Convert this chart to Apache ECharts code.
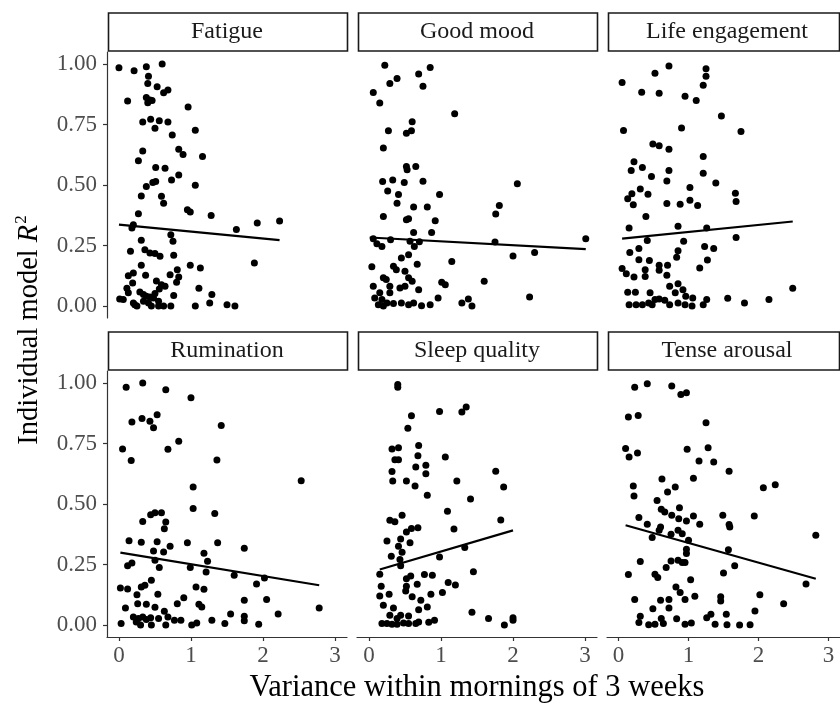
<!DOCTYPE html>
<html>
<head>
<meta charset="utf-8">
<script src="https://cdn.jsdelivr.net/npm/echarts@6.0.0/dist/echarts.min.js"></script>
<style>
html,body{margin:0;padding:0;background:#fff;}
#chart{width:840px;height:704px;}
</style>
</head>
<body>
<div id="chart"></div>
<script>
// ---- Data ----
const panelNames = ['Fatigue', 'Good mood', 'Life engagement', 'Rumination', 'Sleep quality', 'Tense arousal'];
const xTicks = [0, 1, 2, 3];
const yTicks = [0, 0.25, 0.5, 0.75, 1.0];
const xTitle = 'Variance within mornings of 3 weeks';

const fatiguePts = [[0,0.985],[0.21,0.972],[0.38,0.989],[0.60,1.0],[0.41,0.950],[0.40,0.920],[0.53,0.906],[0.62,0.882],[0.68,0.893],[0.12,0.847],[0.38,0.862],[0.43,0.851],[0.40,0.840],[0.46,0.849],[0.96,0.823],[0.33,0.761],[0.44,0.772],[0.50,0.735],[0.56,0.766],[0.68,0.761],[0.74,0.707],[1.06,0.726],[0.33,0.641],[0.83,0.648],[0.89,0.626],[1.16,0.618],[0.27,0.600],[0.51,0.572],[0.64,0.569],[0.47,0.510],[0.51,0.514],[0.38,0.494],[0.73,0.521],[0.83,0.541],[1.06,0.499],[0.31,0.454],[0.59,0.453],[0.62,0.425],[0.27,0.381],[0.95,0.398],[0.99,0.388],[1.28,0.374],[0.20,0.336],[0.18,0.322],[1.92,0.343],[2.23,0.351],[1.63,0.316],[0.72,0.294],[0.75,0.267],[0.31,0.272],[0.16,0.226],[0.36,0.232],[0.43,0.219],[0.50,0.217],[0.57,0.205],[0.76,0.210],[0.31,0.168],[0.99,0.168],[1.13,0.157],[1.88,0.177],[0.13,0.125],[0.20,0.136],[0.37,0.127],[0.52,0.103],[0.59,0.088],[0.71,0.129],[0.81,0.150],[0.83,0.120],[0.80,0.098],[0.19,0.095],[0.11,0.073],[0.13,0.054],[0.29,0.058],[0.34,0.047],[0.43,0.037],[0.50,0.051],[0.56,0.070],[0.64,0.081],[0.76,0.043],[1.11,0.073],[1.29,0.047],[0.01,0.029],[0.06,0.026],[0.20,0.012],[0.25,0.0],[0.34,0.019],[0.41,0.012],[0.45,0.0],[0.55,0.0],[0.62,0.0],[0.72,0.0],[1.06,0.0],[1.26,0.012],[1.50,0.005],[1.61,0.0],[0.38,0.040],[0.48,0.033],[0.22,0.005],[0.55,0.019]];
const goodMoodPts = [[0.22,0.995],[0.39,0.940],[0.29,0.920],[0.69,0.959],[0.85,0.986],[0.75,0.908],[0.06,0.883],[0.15,0.839],[1.19,0.795],[0.60,0.762],[0.27,0.724],[0.52,0.714],[0.59,0.724],[0.20,0.653],[0.52,0.576],[0.53,0.563],[0.65,0.576],[0.19,0.514],[0.33,0.521],[0.26,0.475],[0.49,0.510],[0.75,0.516],[0.41,0.461],[0.39,0.425],[0.98,0.461],[2.06,0.505],[0.62,0.409],[0.81,0.409],[0.20,0.370],[0.52,0.356],[0.55,0.360],[0.92,0.352],[1.81,0.415],[1.76,0.380],[0.87,0.304],[0.62,0.304],[0.06,0.278],[0.11,0.257],[0.18,0.246],[0.30,0.274],[0.57,0.267],[0.63,0.246],[0.70,0.265],[1.75,0.264],[3.01,0.278],[2.00,0.206],[2.30,0.221],[0.55,0.212],[0.45,0.198],[1.15,0.184],[0.04,0.162],[0.34,0.164],[0.38,0.150],[0.67,0.172],[0.50,0.143],[0.20,0.116],[0.24,0.109],[0.55,0.116],[0.60,0.102],[1.01,0.098],[1.06,0.088],[1.60,0.102],[0.06,0.081],[0.29,0.081],[0.43,0.074],[0.50,0.081],[0.69,0.067],[0.15,0.054],[0.29,0.054],[0.08,0.033],[0.18,0.026],[0.25,0.012],[0.34,0.010],[0.45,0.012],[0.55,0.005],[0.62,0.012],[0.73,0.001],[0.85,0.005],[0.96,0.033],[1.29,0.012],[1.38,0.029],[1.43,0.0],[2.23,0.037],[0.13,0.005],[0.20,0.0]];
const lifeEngPts = [[0.05,0.924],[0.52,0.962],[0.72,0.992],[0.33,0.884],[0.58,0.879],[1.25,0.981],[1.25,0.950],[1.21,0.912],[0.95,0.867],[1.11,0.849],[1.47,0.785],[0.07,0.725],[0.90,0.736],[1.75,0.721],[0.49,0.670],[0.58,0.662],[0.72,0.648],[1.21,0.618],[0.22,0.596],[0.18,0.560],[0.34,0.572],[0.47,0.535],[0.72,0.560],[0.69,0.517],[1.21,0.549],[1.39,0.508],[0.31,0.483],[0.19,0.464],[0.42,0.462],[0.13,0.443],[0.21,0.418],[1.02,0.490],[1.02,0.437],[0.69,0.424],[0.88,0.420],[1.13,0.415],[1.67,0.466],[1.68,0.432],[0.39,0.370],[0.15,0.322],[0.85,0.329],[1.26,0.322],[1.68,0.283],[0.41,0.270],[0.93,0.267],[0.29,0.237],[0.16,0.221],[0.85,0.228],[1.23,0.246],[1.36,0.237],[0.29,0.191],[0.44,0.188],[0.83,0.201],[1.27,0.190],[0.58,0.168],[0.70,0.168],[0.05,0.155],[0.38,0.150],[0.58,0.147],[1.16,0.157],[0.11,0.133],[0.22,0.120],[0.38,0.122],[0.69,0.127],[0.73,0.081],[0.85,0.092],[0.92,0.067],[0.13,0.056],[0.24,0.056],[0.45,0.054],[0.58,0.029],[0.66,0.023],[0.81,0.054],[0.96,0.040],[1.06,0.033],[0.15,0.005],[0.25,0.005],[0.34,0.005],[0.43,0.012],[0.48,0.005],[0.73,0.005],[0.85,0.012],[0.95,0.005],[1.05,0.0],[1.21,0.005],[1.26,0.026],[1.56,0.032],[1.80,0.012],[2.15,0.026],[2.49,0.073],[0.52,0.026]];
const ruminationPts = [[0.10,0.983],[0.33,1.0],[0.65,0.972],[1.00,0.939],[0.18,0.839],[0.32,0.854],[0.43,0.842],[0.48,0.815],[0.53,0.869],[1.42,0.825],[0.05,0.727],[0.17,0.680],[0.68,0.726],[0.83,0.759],[1.36,0.682],[2.53,0.596],[1.03,0.570],[1.03,0.481],[0.33,0.428],[0.44,0.456],[0.50,0.464],[0.59,0.464],[0.65,0.426],[0.63,0.398],[1.33,0.461],[0.14,0.348],[0.31,0.342],[0.53,0.344],[0.71,0.325],[0.95,0.340],[1.37,0.340],[1.74,0.317],[0.48,0.306],[0.62,0.302],[1.18,0.296],[1.23,0.263],[0.12,0.245],[0.18,0.256],[0.50,0.267],[0.56,0.237],[0.99,0.237],[1.21,0.219],[1.60,0.205],[2.02,0.194],[0.45,0.185],[0.02,0.153],[0.12,0.149],[0.31,0.157],[0.36,0.164],[1.07,0.157],[1.18,0.147],[1.91,0.169],[0.25,0.125],[0.54,0.127],[0.90,0.112],[0.81,0.088],[1.11,0.085],[1.15,0.074],[0.26,0.088],[0.38,0.085],[0.09,0.070],[0.50,0.073],[0.63,0.056],[1.74,0.102],[2.05,0.105],[2.78,0.070],[2.21,0.045],[1.55,0.045],[0.20,0.033],[0.27,0.026],[0.33,0.033],[0.38,0.022],[0.44,0.030],[0.55,0.026],[0.68,0.033],[0.77,0.019],[0.86,0.019],[1.29,0.019],[1.74,0.036],[1.74,0.017],[0.03,0.006],[0.30,0.0],[0.45,0.0],[0.65,0.0],[1.01,0.0],[1.08,0.008],[1.47,0.006],[1.94,0.003],[0.24,0.012]];
const sleepPts = [[0.40,0.994],[0.40,0.983],[0.98,0.883],[1.29,0.880],[1.35,0.901],[0.59,0.865],[0.54,0.813],[0.32,0.727],[0.41,0.733],[0.69,0.742],[0.36,0.683],[0.41,0.683],[0.68,0.700],[1.06,0.694],[0.32,0.634],[0.65,0.653],[0.79,0.660],[0.79,0.625],[1.76,0.635],[0.33,0.595],[0.52,0.595],[0.64,0.574],[1.22,0.595],[1.87,0.570],[0.81,0.536],[1.41,0.521],[1.09,0.470],[0.29,0.433],[0.36,0.427],[0.46,0.453],[1.83,0.434],[0.52,0.384],[0.59,0.399],[0.68,0.402],[1.18,0.397],[0.44,0.355],[0.25,0.347],[0.57,0.340],[0.41,0.325],[1.33,0.320],[0.46,0.300],[0.31,0.284],[0.43,0.270],[0.98,0.281],[0.44,0.245],[0.15,0.209],[0.52,0.191],[0.58,0.202],[0.77,0.208],[0.88,0.205],[1.45,0.220],[0.17,0.160],[0.67,0.168],[0.52,0.160],[1.10,0.175],[1.20,0.165],[0.15,0.120],[0.28,0.127],[0.51,0.140],[0.60,0.116],[0.86,0.127],[1.02,0.134],[0.20,0.081],[0.72,0.102],[0.81,0.074],[0.34,0.070],[0.69,0.063],[1.43,0.052],[0.29,0.040],[0.44,0.040],[0.55,0.037],[0.91,0.019],[0.83,0.011],[1.66,0.026],[2.00,0.030],[2.00,0.019],[1.88,0.0],[0.18,0.006],[0.25,0.006],[0.32,0.003],[0.39,0.003],[0.48,0.008],[0.55,0.006],[0.65,0.006],[0.69,0.012],[0.39,0.026]];
const tensePts = [[0.23,0.983],[0.41,0.997],[0.76,0.988],[0.89,0.953],[0.97,0.960],[0.14,0.860],[0.28,0.866],[1.25,0.836],[0.10,0.729],[0.15,0.694],[0.27,0.711],[0.98,0.726],[1.28,0.733],[1.15,0.678],[1.36,0.674],[1.58,0.635],[0.62,0.603],[1.07,0.607],[0.21,0.574],[0.22,0.533],[0.70,0.550],[0.81,0.570],[2.07,0.567],[2.24,0.580],[0.55,0.514],[0.61,0.478],[0.87,0.485],[0.66,0.467],[0.29,0.444],[0.76,0.453],[0.86,0.439],[0.97,0.430],[1.07,0.450],[1.49,0.453],[1.94,0.450],[0.41,0.416],[0.60,0.405],[0.58,0.391],[1.16,0.416],[1.58,0.415],[1.59,0.405],[0.48,0.361],[0.75,0.375],[0.85,0.391],[0.91,0.377],[1.00,0.350],[2.82,0.371],[0.97,0.313],[0.97,0.295],[1.57,0.311],[0.75,0.264],[0.85,0.267],[0.91,0.258],[0.95,0.258],[0.31,0.262],[0.68,0.237],[1.66,0.245],[1.50,0.215],[0.14,0.208],[0.52,0.209],[0.56,0.196],[1.03,0.187],[2.68,0.169],[0.82,0.157],[0.88,0.134],[0.23,0.105],[0.60,0.102],[0.72,0.105],[0.95,0.105],[1.09,0.118],[1.46,0.116],[1.46,0.099],[2.02,0.125],[2.36,0.087],[0.49,0.067],[0.72,0.070],[1.95,0.058],[0.31,0.036],[0.29,0.010],[0.43,0.001],[0.52,0.003],[0.64,0.006],[0.61,0.026],[0.83,0.025],[0.95,0.003],[1.04,0.008],[1.26,0.030],[1.32,0.044],[1.38,0.003],[1.54,0.044],[1.55,0.001],[1.73,0.0],[1.88,0.001]];

// fitted regression line end points
const fatigueFit = [[0.00, 0.336], [2.23, 0.272]];
const goodMoodFit = [[0.01, 0.283], [3.01, 0.235]];
const lifeEngFit = [[0.05, 0.278], [2.49, 0.349]];
const ruminationFit = [[0.02, 0.299], [2.78, 0.164]];
const sleepFit = [[0.15, 0.229], [2.00, 0.391]];
const tenseFit = [[0.10, 0.412], [2.82, 0.191]];

const panelPts = [fatiguePts, goodMoodPts, lifeEngPts, ruminationPts, sleepPts, tensePts];
const panelFits = [fatigueFit, goodMoodFit, lifeEngFit, ruminationFit, sleepFit, tenseFit];

// ---- Layout ----
const FONT = '"Liberation Serif", "Times New Roman", serif';
const colLeft = [107, 357, 607];
const rowTop = [52, 371];
const panelW = 240, panelH = 266, stripH = 39;
const xMin = -0.166, xMax = 3.166, yMin = -0.05, yMax = 1.05;

const chart = echarts.init(document.getElementById('chart'), null, {renderer: 'canvas'});

const grids = [], xAxes = [], yAxes = [], series = [], graphics = [];
panelNames.forEach((name, i) => {
  const r = Math.floor(i / 3), c = i % 3;
  grids.push({left: colLeft[c], top: rowTop[r], width: panelW, height: panelH, containLabel: false});
  const showX = r === 1, showY = c === 0;
  xAxes.push({
    type: 'value', gridIndex: i, min: xMin, max: xMax,
    splitLine: {show: false},
    axisLine: {show: showX, onZero: false, lineStyle: {color: '#333', width: 1.2}},
    axisTick: {show: showX, length: 4, customValues: xTicks, lineStyle: {color: '#333', width: 1.2}},
    axisLabel: {show: showX, customValues: xTicks, margin: 7, color: '#4d4d4d', fontFamily: FONT, fontSize: 23}
  });
  yAxes.push({
    type: 'value', gridIndex: i, min: yMin, max: yMax,
    splitLine: {show: false},
    axisLine: {show: showY, onZero: false, lineStyle: {color: '#333', width: 1.2}},
    axisTick: {show: showY, length: 4, customValues: yTicks, lineStyle: {color: '#333', width: 1.2}},
    axisLabel: {show: showY, customValues: yTicks, margin: 10, color: '#4d4d4d', fontFamily: FONT, fontSize: 23,
      formatter: v => Number(v).toFixed(2)}
  });
  series.push({
    type: 'scatter', xAxisIndex: i, yAxisIndex: i, data: panelPts[i],
    symbol: 'circle', symbolSize: 7, itemStyle: {color: '#000', opacity: 1}, silent: true, z: 2
  });
  series.push({
    type: 'line', xAxisIndex: i, yAxisIndex: i, data: panelFits[i],
    showSymbol: false, symbol: 'none', lineStyle: {color: '#000', width: 2.2}, silent: true, z: 3
  });
  // strip
  const sx = colLeft[c] + 1.5;
  const sw = (c === 2) ? (839.5 - sx) : (panelW - 1);
  graphics.push({
    type: 'rect', silent: true,
    shape: {x: sx, y: rowTop[r] - stripH, width: sw, height: stripH - 1},
    style: {fill: '#fff', stroke: '#1a1a1a', lineWidth: 1.6}
  });
  graphics.push({
    type: 'text', silent: true,
    x: colLeft[c] + panelW / 2, y: rowTop[r] - stripH / 2 - 0.5,
    style: {text: name, fill: '#1a1a1a', font: '24px ' + FONT, align: 'center', verticalAlign: 'middle'}
  });
});

// axis titles
graphics.push({
  type: 'text', silent: true,
  x: (colLeft[0] + colLeft[2] + panelW) / 2, y: 688,
  style: {text: xTitle, fill: '#000', font: '30.5px ' + FONT, align: 'center', verticalAlign: 'middle'}
});
graphics.push({
  type: 'text', silent: true,
  x: 30, y: 330, rotation: Math.PI / 2,
  style: {
    text: '{n|Individual model }{i|R}{s|2}',
    align: 'center', verticalAlign: 'middle', fill: '#000',
    rich: {
      n: {fontFamily: FONT, fontSize: 28.5, fill: '#000', lineHeight: 33},
      i: {fontFamily: FONT, fontSize: 28.5, fontStyle: 'italic', fill: '#000', lineHeight: 33},
      s: {fontFamily: FONT, fontSize: 17, fill: '#000', lineHeight: 33, verticalAlign: 'top', padding: [0, 0, 0, 1]}
    }
  }
});

chart.setOption({
  backgroundColor: '#fff',
  animation: false,
  grid: grids,
  xAxis: xAxes,
  yAxis: yAxes,
  series: series,
  graphic: graphics
});
</script>
</body>
</html>
